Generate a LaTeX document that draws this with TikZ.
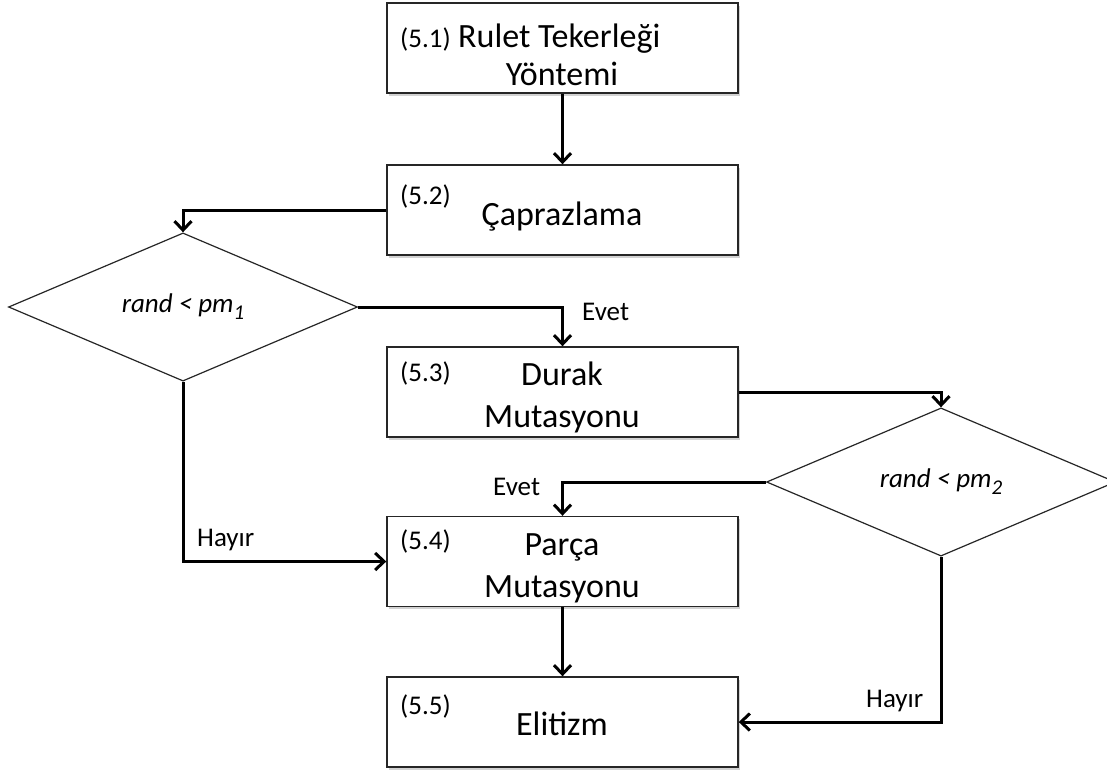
\documentclass[tikz,border=0pt]{standalone}
\usepackage{fontspec}
\setmainfont{Carlito}
\usetikzlibrary{shapes.geometric,arrows.meta,shadows}

\newcommand{\lowsub}[1]{\raisebox{-7pt}{\fontsize{21}{21}\selectfont #1}}

\tikzset{
  stepbox/.style={draw=black!85, line width=1.4pt, fill=white,
    minimum width=351pt, minimum height=90pt, inner sep=0pt,
    drop shadow={shadow xshift=2pt, shadow yshift=-2.5pt, opacity=0.35}},
  decision/.style={diamond, draw=black!85, line width=1.2pt, fill=white,
    minimum width=349pt, minimum height=126pt, inner sep=0pt,
    font=\fontsize{27}{32}\selectfont\itshape},
  flow/.style={line width=3pt, -{Straight Barb[length=9pt, width=17pt, line width=3pt]}},
  tag/.style={anchor=base west, inner sep=0pt, font=\fontsize{27}{32}\selectfont},
  title/.style={anchor=base, inner sep=0pt, font=\fontsize{34}{40}\selectfont},
  answer/.style={anchor=base west, inner sep=0pt, font=\fontsize{27}{32}\selectfont},
}

\begin{document}
\begin{tikzpicture}[x=1pt, y=-1pt]
\useasboundingbox (0,0) rectangle (1107,769);
\clip (0,0) rectangle (1107,769);
\fill[white] (0,0) rectangle (1107,769);

% process boxes
\node[stepbox] (b1) at (562.5,48)    {};
\node[stepbox] (b2) at (562.5,210)   {};
\node[stepbox] (b3) at (562.5,392)   {};
\node[stepbox] (b4) at (562.5,561.5) {};
\node[stepbox] (b5) at (562.5,722)   {};

% decisions
\node[decision] (d1) at (183,307) {rand < pm\lowsub{1}};
\node[decision] (d2) at (941,482) {rand < pm\lowsub{2}};

% box texts
\node[tag]   (t1)  at (400,47)  {(5.1)};
\node[anchor=base west, inner sep=0pt, font=\fontsize{34}{40}\selectfont] (l1a) at (458,47) {Rulet Tekerleği};
\node[title] (l1b) at (562,85)  {Yöntemi};

\node[tag]   (t2)  at (400,204) {(5.2)};
\node[title] (l2)  at (562,225) {Çaprazlama};

\node[tag]   (t3)  at (400,381) {(5.3)};
\node[title] (l3a) at (562,385) {Durak};
\node[title] (l3b) at (562,427) {Mutasyonu};

\node[tag]   (t4)  at (400,549) {(5.4)};
\node[title] (l4a) at (562,555) {Parça};
\node[title] (l4b) at (562,597) {Mutasyonu};

\node[tag]   (t5)  at (400,714) {(5.5)};
\node[title] (l5)  at (562,735) {Elitizm};

% connectors
\draw[flow] (b1.south) -- (b2.north);
\draw[flow] (b2.west) -| (d1.north);
\draw[flow] (d1.east) -| (b3.north);
\draw[flow] (b3.east) -| (d2.north);
\draw[flow] (d2.west) -| (b4.north);
\draw[flow] (d1.south) |- (b4.west);
\draw[flow] (b4.south) -- (b5.north);
\draw[flow] (d2.south) |- (b5.east);

% branch labels
\node[answer] (e1) at (582,320) {Evet};
\node[answer] (e2) at (493,495) {Evet};
\node[answer] (h1) at (197,546) {Hayır};
\node[answer] (h2) at (866,707) {Hayır};
\end{tikzpicture}
\end{document}
